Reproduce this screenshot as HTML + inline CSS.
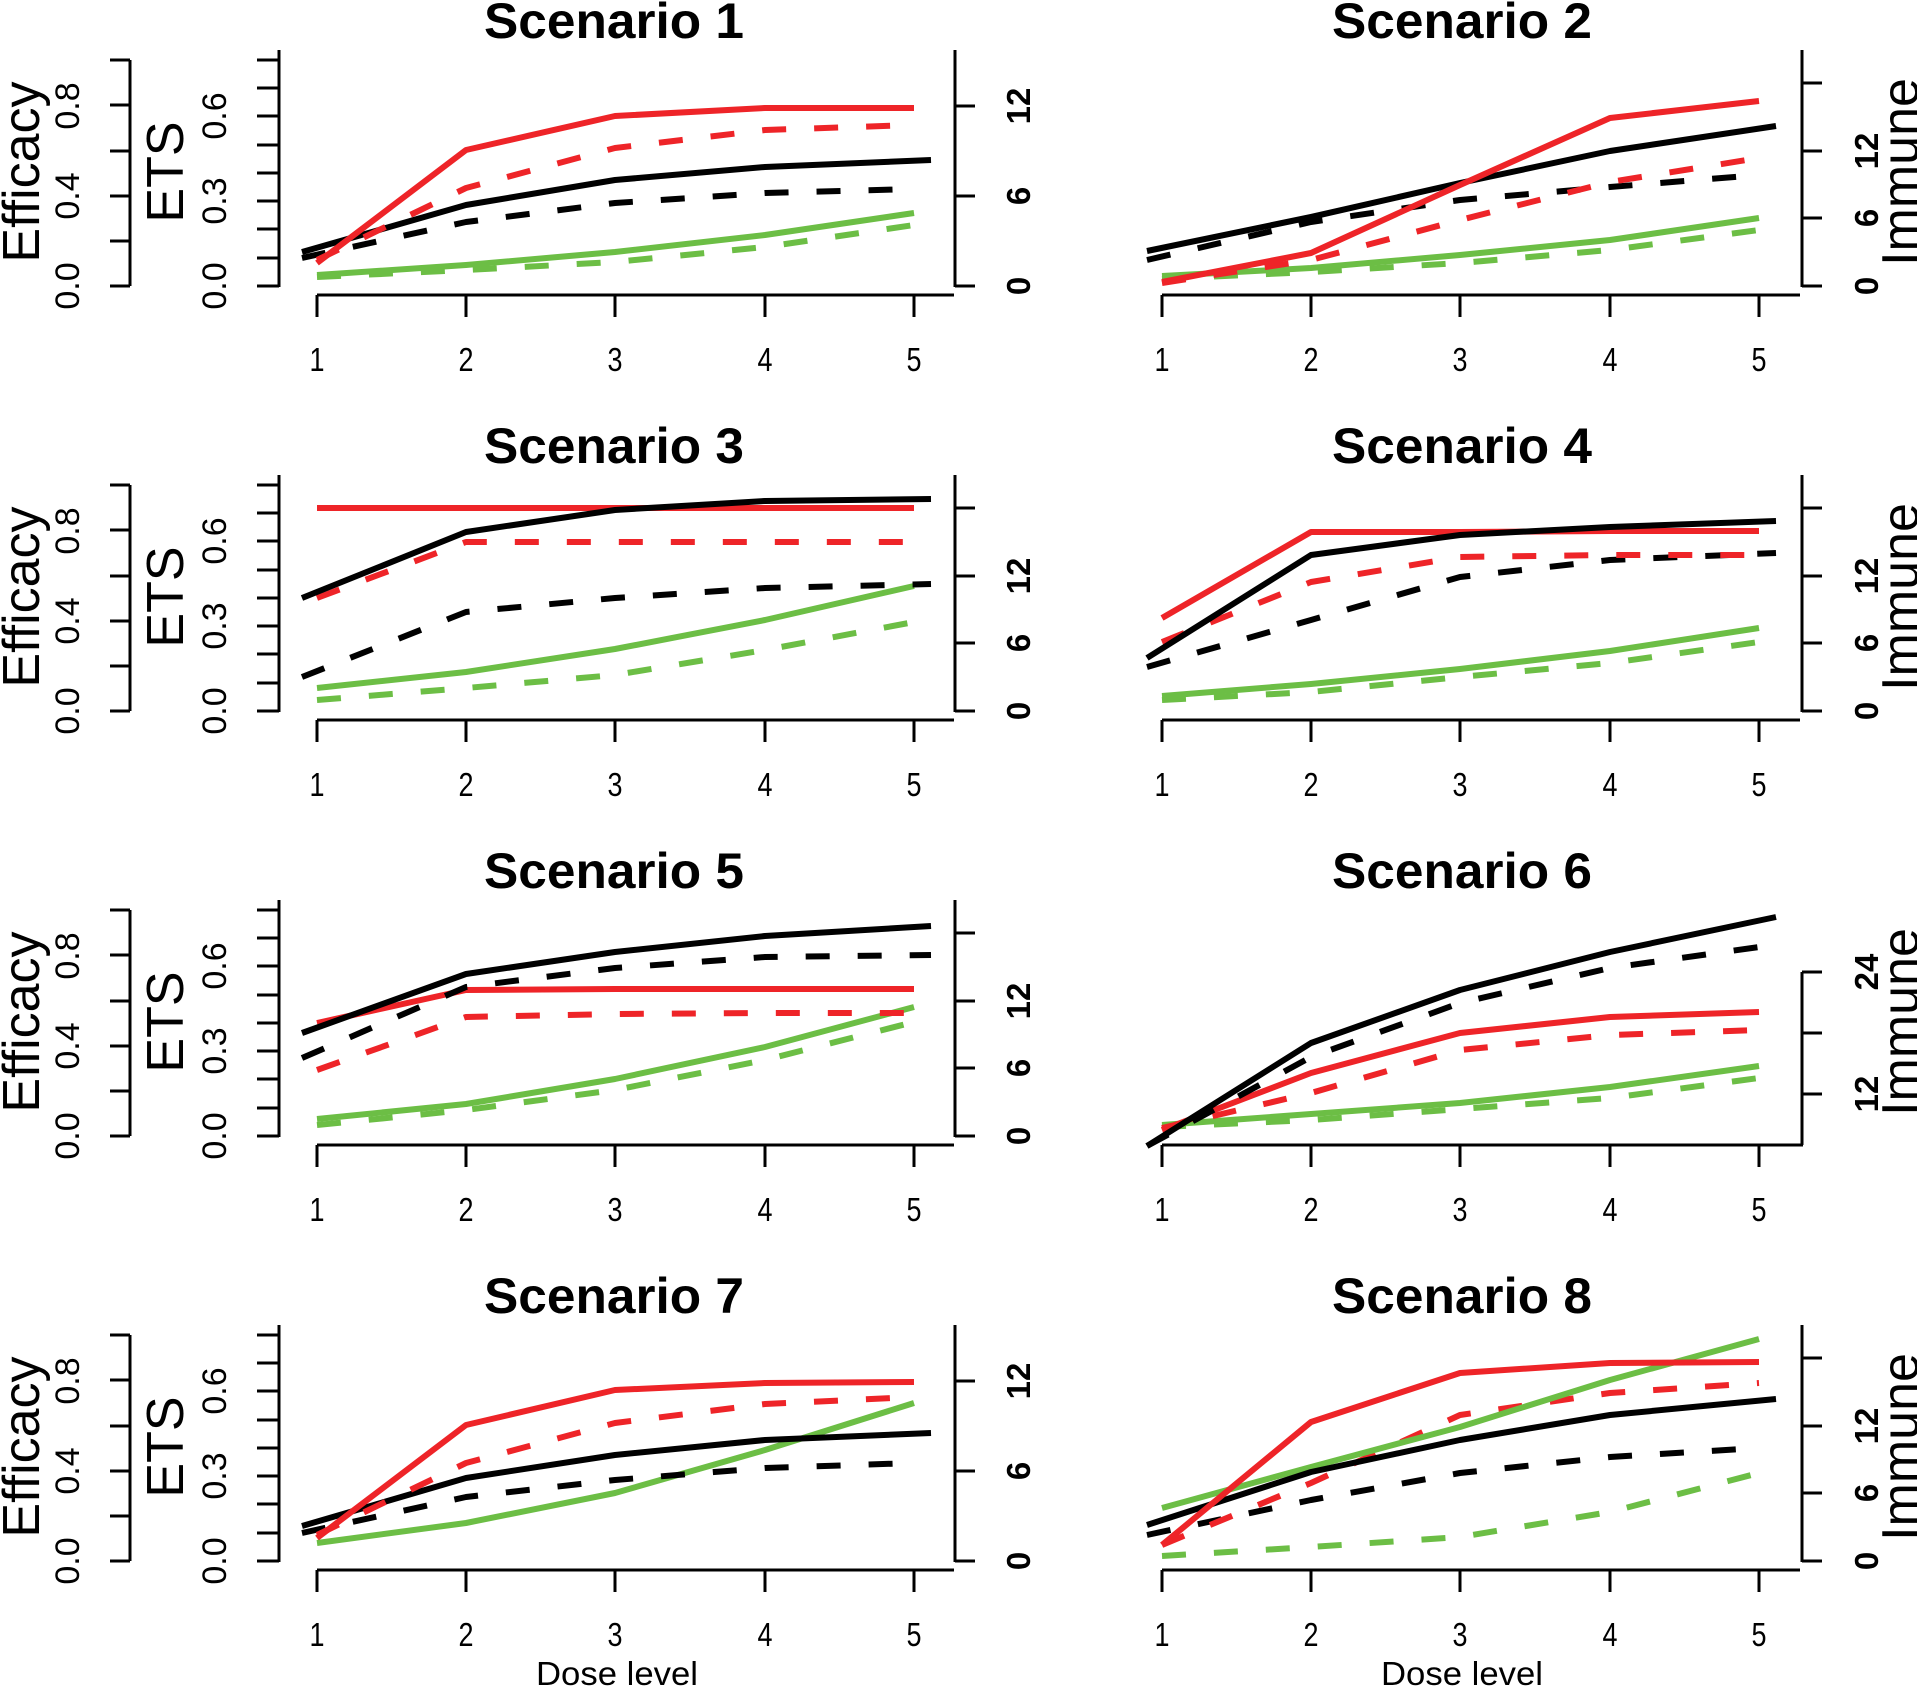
<!DOCTYPE html>
<html><head><meta charset="utf-8"><style>
html,body{margin:0;padding:0;background:#fff;}
svg{display:block;}
text{font-family:"Liberation Sans",sans-serif;fill:#000;}
.t{font-size:50px;font-weight:bold;}
.xl{font-size:33px;}
.al{font-size:52px;}
.tl{font-size:34px;}
.tb{font-size:33px;font-weight:bold;}
.ax{stroke:#000;stroke-width:3;fill:none;}
.r,.rd,.k,.kd,.g,.gd{fill:none;stroke-width:6;stroke-linejoin:round;}
.r,.rd{stroke:#EE2428;}
.k,.kd{stroke:#000;}
.g,.gd{stroke:#6CBE45;}
.rd,.kd,.gd{stroke-dasharray:24 28;}
</style></head><body>
<svg width="1917" height="1687" viewBox="0 0 1917 1687" xmlns="http://www.w3.org/2000/svg">

<!-- ===== Row 1 ===== -->
<g transform="translate(0,0)">
<text class="t" x="614" y="38" text-anchor="middle" textLength="260" lengthAdjust="spacingAndGlyphs">Scenario 1</text>
<path class="ax" d="M130,60V286 M110,60H130 M110,105H130 M110,151H130 M110,196H130 M110,241H130 M110,286H130"/>
<text class="tl" transform="translate(79,286) rotate(-90)" text-anchor="middle">0.0</text>
<text class="tl" transform="translate(79,196) rotate(-90)" text-anchor="middle">0.4</text>
<text class="tl" transform="translate(79,106) rotate(-90)" text-anchor="middle">0.8</text>
<text class="al" transform="translate(39,172) rotate(-90)" text-anchor="middle">Efficacy</text>
<path class="ax" d="M279,50V287 M257,60H279 M257,88H279 M257,116H279 M257,145H279 M257,173H279 M257,201H279 M257,229H279 M257,258H279 M257,286H279"/>
<text class="tl" transform="translate(226,286) rotate(-90)" text-anchor="middle">0.0</text>
<text class="tl" transform="translate(226,201) rotate(-90)" text-anchor="middle">0.3</text>
<text class="tl" transform="translate(226,116) rotate(-90)" text-anchor="middle">0.6</text>
<text class="al" transform="translate(183,172) rotate(-90)" text-anchor="middle">ETS</text>
<path class="ax" d="M955,50V287 M955,106H975 M955,196H975 M955,286H975"/>
<text class="tb" transform="translate(1030,286) rotate(-90)" text-anchor="middle">0</text>
<text class="tb" transform="translate(1030,196) rotate(-90)" text-anchor="middle">6</text>
<text class="tb" transform="translate(1030,106) rotate(-90)" text-anchor="middle">12</text>
<path class="ax" d="M317,295H954 M317,295V317 M466,295V317 M615,295V317 M765,295V317 M914,295V317"/>
<text class="xl" x="317" y="371" text-anchor="middle" textLength="15" lengthAdjust="spacingAndGlyphs">1</text>
<text class="xl" x="466" y="371" text-anchor="middle" textLength="15" lengthAdjust="spacingAndGlyphs">2</text>
<text class="xl" x="615" y="371" text-anchor="middle" textLength="15" lengthAdjust="spacingAndGlyphs">3</text>
<text class="xl" x="765" y="371" text-anchor="middle" textLength="15" lengthAdjust="spacingAndGlyphs">4</text>
<text class="xl" x="914" y="371" text-anchor="middle" textLength="15" lengthAdjust="spacingAndGlyphs">5</text>
<polyline class="gd" points="317,277 466,270 615,262 765,247 914,225"/>
<polyline class="g" points="317,275 466,265 615,252 765,235 914,213"/>
<polyline class="kd" points="302,258 466,222 615,203 765,193 914,189"/>
<polyline class="k" points="302,252 466,205 615,180 765,167 931,160"/>
<polyline class="rd" points="317,260 466,188 615,148 765,130 914,125"/>
<polyline class="r" points="317,263 466,150 615,116 765,108 914,108"/>
</g>

<g transform="translate(845,0)">
<text class="t" x="617" y="38" text-anchor="middle" textLength="260" lengthAdjust="spacingAndGlyphs">Scenario 2</text>
<path class="ax" d="M957,50V287 M957,83H977 M957,151H977 M957,218H977 M957,286H977"/>
<text class="tb" transform="translate(1033,286) rotate(-90)" text-anchor="middle">0</text>
<text class="tb" transform="translate(1033,218) rotate(-90)" text-anchor="middle">6</text>
<text class="tb" transform="translate(1033,151) rotate(-90)" text-anchor="middle">12</text>
<text class="al" transform="translate(1073,172) rotate(-90)" text-anchor="middle">Immune</text>
<path class="ax" d="M317,295H955 M317,295V317 M466,295V317 M615,295V317 M765,295V317 M914,295V317"/>
<text class="xl" x="317" y="371" text-anchor="middle" textLength="15" lengthAdjust="spacingAndGlyphs">1</text>
<text class="xl" x="466" y="371" text-anchor="middle" textLength="15" lengthAdjust="spacingAndGlyphs">2</text>
<text class="xl" x="615" y="371" text-anchor="middle" textLength="15" lengthAdjust="spacingAndGlyphs">3</text>
<text class="xl" x="765" y="371" text-anchor="middle" textLength="15" lengthAdjust="spacingAndGlyphs">4</text>
<text class="xl" x="914" y="371" text-anchor="middle" textLength="15" lengthAdjust="spacingAndGlyphs">5</text>
<polyline class="gd" points="317,279 466,272 615,263 765,250 914,230"/>
<polyline class="g" points="317,276 466,268 615,255 765,240 914,218"/>
<polyline class="kd" points="302,260 466,222 615,200 765,187 914,175"/>
<polyline class="k" points="302,251 466,217 615,183 765,151 931,126"/>
<polyline class="rd" points="317,283 466,260 615,220 765,182 914,158"/>
<polyline class="r" points="317,282 466,253 615,185 765,118 914,101"/>
</g>

<!-- ===== Row 2 ===== -->
<g transform="translate(0,425)">
<text class="t" x="614" y="38" text-anchor="middle" textLength="260" lengthAdjust="spacingAndGlyphs">Scenario 3</text>
<path class="ax" d="M130,60V286 M110,60H130 M110,105H130 M110,151H130 M110,196H130 M110,241H130 M110,286H130"/>
<text class="tl" transform="translate(79,286) rotate(-90)" text-anchor="middle">0.0</text>
<text class="tl" transform="translate(79,196) rotate(-90)" text-anchor="middle">0.4</text>
<text class="tl" transform="translate(79,106) rotate(-90)" text-anchor="middle">0.8</text>
<text class="al" transform="translate(39,172) rotate(-90)" text-anchor="middle">Efficacy</text>
<path class="ax" d="M279,50V287 M257,60H279 M257,88H279 M257,116H279 M257,145H279 M257,173H279 M257,201H279 M257,229H279 M257,258H279 M257,286H279"/>
<text class="tl" transform="translate(226,286) rotate(-90)" text-anchor="middle">0.0</text>
<text class="tl" transform="translate(226,201) rotate(-90)" text-anchor="middle">0.3</text>
<text class="tl" transform="translate(226,116) rotate(-90)" text-anchor="middle">0.6</text>
<text class="al" transform="translate(183,172) rotate(-90)" text-anchor="middle">ETS</text>
<path class="ax" d="M955,50V287 M955,83H975 M955,151H975 M955,218H975 M955,286H975"/>
<text class="tb" transform="translate(1030,286) rotate(-90)" text-anchor="middle">0</text>
<text class="tb" transform="translate(1030,218) rotate(-90)" text-anchor="middle">6</text>
<text class="tb" transform="translate(1030,151) rotate(-90)" text-anchor="middle">12</text>
<path class="ax" d="M317,295H954 M317,295V317 M466,295V317 M615,295V317 M765,295V317 M914,295V317"/>
<text class="xl" x="317" y="371" text-anchor="middle" textLength="15" lengthAdjust="spacingAndGlyphs">1</text>
<text class="xl" x="466" y="371" text-anchor="middle" textLength="15" lengthAdjust="spacingAndGlyphs">2</text>
<text class="xl" x="615" y="371" text-anchor="middle" textLength="15" lengthAdjust="spacingAndGlyphs">3</text>
<text class="xl" x="765" y="371" text-anchor="middle" textLength="15" lengthAdjust="spacingAndGlyphs">4</text>
<text class="xl" x="914" y="371" text-anchor="middle" textLength="15" lengthAdjust="spacingAndGlyphs">5</text>
<polyline class="gd" points="317,275 466,263 615,250 765,225 914,197"/>
<polyline class="g" points="317,263 466,247 615,224 765,195 914,161"/>
<polyline class="kd" points="302,252 466,187 615,173 765,163 931,159"/>
<polyline class="rd" points="317,173 466,117 615,117 765,117 914,117"/>
<polyline class="r" points="317,83 466,83 615,83 765,83 914,83"/>
<polyline class="k" points="302,173 466,107 615,85 765,76 931,74"/>
</g>

<g transform="translate(845,425)">
<text class="t" x="617" y="38" text-anchor="middle" textLength="260" lengthAdjust="spacingAndGlyphs">Scenario 4</text>
<path class="ax" d="M957,50V287 M957,83H977 M957,151H977 M957,218H977 M957,286H977"/>
<text class="tb" transform="translate(1033,286) rotate(-90)" text-anchor="middle">0</text>
<text class="tb" transform="translate(1033,218) rotate(-90)" text-anchor="middle">6</text>
<text class="tb" transform="translate(1033,151) rotate(-90)" text-anchor="middle">12</text>
<text class="al" transform="translate(1073,172) rotate(-90)" text-anchor="middle">Immune</text>
<path class="ax" d="M317,295H955 M317,295V317 M466,295V317 M615,295V317 M765,295V317 M914,295V317"/>
<text class="xl" x="317" y="371" text-anchor="middle" textLength="15" lengthAdjust="spacingAndGlyphs">1</text>
<text class="xl" x="466" y="371" text-anchor="middle" textLength="15" lengthAdjust="spacingAndGlyphs">2</text>
<text class="xl" x="615" y="371" text-anchor="middle" textLength="15" lengthAdjust="spacingAndGlyphs">3</text>
<text class="xl" x="765" y="371" text-anchor="middle" textLength="15" lengthAdjust="spacingAndGlyphs">4</text>
<text class="xl" x="914" y="371" text-anchor="middle" textLength="15" lengthAdjust="spacingAndGlyphs">5</text>
<polyline class="gd" points="317,275 466,267 615,252 765,238 914,217"/>
<polyline class="g" points="317,271 466,259 615,244 765,226 914,203"/>
<polyline class="kd" points="302,242 466,195 615,152 765,135 931,128"/>
<polyline class="rd" points="317,217 466,157 615,132 765,130 914,130"/>
<polyline class="r" points="317,193 466,107 615,107 765,106 914,106"/>
<polyline class="k" points="302,233 466,130 615,110 765,102 931,96"/>
</g>

<!-- ===== Row 3 ===== -->
<g transform="translate(0,850)">
<text class="t" x="614" y="38" text-anchor="middle" textLength="260" lengthAdjust="spacingAndGlyphs">Scenario 5</text>
<path class="ax" d="M130,60V286 M110,60H130 M110,105H130 M110,151H130 M110,196H130 M110,241H130 M110,286H130"/>
<text class="tl" transform="translate(79,286) rotate(-90)" text-anchor="middle">0.0</text>
<text class="tl" transform="translate(79,196) rotate(-90)" text-anchor="middle">0.4</text>
<text class="tl" transform="translate(79,106) rotate(-90)" text-anchor="middle">0.8</text>
<text class="al" transform="translate(39,172) rotate(-90)" text-anchor="middle">Efficacy</text>
<path class="ax" d="M279,50V287 M257,60H279 M257,88H279 M257,116H279 M257,145H279 M257,173H279 M257,201H279 M257,229H279 M257,258H279 M257,286H279"/>
<text class="tl" transform="translate(226,286) rotate(-90)" text-anchor="middle">0.0</text>
<text class="tl" transform="translate(226,201) rotate(-90)" text-anchor="middle">0.3</text>
<text class="tl" transform="translate(226,116) rotate(-90)" text-anchor="middle">0.6</text>
<text class="al" transform="translate(183,172) rotate(-90)" text-anchor="middle">ETS</text>
<path class="ax" d="M955,50V287 M955,83H975 M955,151H975 M955,218H975 M955,286H975"/>
<text class="tb" transform="translate(1030,286) rotate(-90)" text-anchor="middle">0</text>
<text class="tb" transform="translate(1030,218) rotate(-90)" text-anchor="middle">6</text>
<text class="tb" transform="translate(1030,151) rotate(-90)" text-anchor="middle">12</text>
<path class="ax" d="M317,295H954 M317,295V317 M466,295V317 M615,295V317 M765,295V317 M914,295V317"/>
<text class="xl" x="317" y="371" text-anchor="middle" textLength="15" lengthAdjust="spacingAndGlyphs">1</text>
<text class="xl" x="466" y="371" text-anchor="middle" textLength="15" lengthAdjust="spacingAndGlyphs">2</text>
<text class="xl" x="615" y="371" text-anchor="middle" textLength="15" lengthAdjust="spacingAndGlyphs">3</text>
<text class="xl" x="765" y="371" text-anchor="middle" textLength="15" lengthAdjust="spacingAndGlyphs">4</text>
<text class="xl" x="914" y="371" text-anchor="middle" textLength="15" lengthAdjust="spacingAndGlyphs">5</text>
<polyline class="gd" points="317,275 466,260 615,240 765,210 914,172"/>
<polyline class="g" points="317,269 466,254 615,229 765,197 914,157"/>
<polyline class="rd" points="317,220 466,167 615,164 765,163 914,163"/>
<polyline class="r" points="317,173 466,140 615,139 765,139 914,139"/>
<polyline class="kd" points="302,208 466,137 615,118 765,107 931,105"/>
<polyline class="k" points="302,183 466,124 615,102 765,86 931,76"/>
</g>

<g transform="translate(845,850)">
<text class="t" x="617" y="38" text-anchor="middle" textLength="260" lengthAdjust="spacingAndGlyphs">Scenario 6</text>
<path class="ax" d="M957,122V295 M957,122H977 M957,183H977 M957,244H977"/>
<text class="tb" transform="translate(1033,244) rotate(-90)" text-anchor="middle">12</text>
<text class="tb" transform="translate(1033,122) rotate(-90)" text-anchor="middle">24</text>
<text class="al" transform="translate(1073,172) rotate(-90)" text-anchor="middle">Immune</text>
<path class="ax" d="M317,295H958 M317,295V317 M466,295V317 M615,295V317 M765,295V317 M914,295V317"/>
<text class="xl" x="317" y="371" text-anchor="middle" textLength="15" lengthAdjust="spacingAndGlyphs">1</text>
<text class="xl" x="466" y="371" text-anchor="middle" textLength="15" lengthAdjust="spacingAndGlyphs">2</text>
<text class="xl" x="615" y="371" text-anchor="middle" textLength="15" lengthAdjust="spacingAndGlyphs">3</text>
<text class="xl" x="765" y="371" text-anchor="middle" textLength="15" lengthAdjust="spacingAndGlyphs">4</text>
<text class="xl" x="914" y="371" text-anchor="middle" textLength="15" lengthAdjust="spacingAndGlyphs">5</text>
<polyline class="gd" points="317,277 466,270 615,259 765,248 914,228"/>
<polyline class="g" points="317,275 466,264 615,253 765,237 914,216"/>
<polyline class="rd" points="317,278 466,243 615,200 765,185 914,180"/>
<polyline class="r" points="317,280 466,223 615,183 765,167 914,162"/>
<polyline class="kd" points="302,296 466,207 615,153 765,118 914,97"/>
<polyline class="k" points="302,296 466,193 615,140 765,102 931,67"/>
</g>

<!-- ===== Row 4 ===== -->
<g transform="translate(0,1275)">
<text class="t" x="614" y="38" text-anchor="middle" textLength="260" lengthAdjust="spacingAndGlyphs">Scenario 7</text>
<path class="ax" d="M130,60V286 M110,60H130 M110,105H130 M110,151H130 M110,196H130 M110,241H130 M110,286H130"/>
<text class="tl" transform="translate(79,286) rotate(-90)" text-anchor="middle">0.0</text>
<text class="tl" transform="translate(79,196) rotate(-90)" text-anchor="middle">0.4</text>
<text class="tl" transform="translate(79,106) rotate(-90)" text-anchor="middle">0.8</text>
<text class="al" transform="translate(39,172) rotate(-90)" text-anchor="middle">Efficacy</text>
<path class="ax" d="M279,50V287 M257,60H279 M257,88H279 M257,116H279 M257,145H279 M257,173H279 M257,201H279 M257,229H279 M257,258H279 M257,286H279"/>
<text class="tl" transform="translate(226,286) rotate(-90)" text-anchor="middle">0.0</text>
<text class="tl" transform="translate(226,201) rotate(-90)" text-anchor="middle">0.3</text>
<text class="tl" transform="translate(226,116) rotate(-90)" text-anchor="middle">0.6</text>
<text class="al" transform="translate(183,172) rotate(-90)" text-anchor="middle">ETS</text>
<path class="ax" d="M955,50V287 M955,106H975 M955,196H975 M955,286H975"/>
<text class="tb" transform="translate(1030,286) rotate(-90)" text-anchor="middle">0</text>
<text class="tb" transform="translate(1030,196) rotate(-90)" text-anchor="middle">6</text>
<text class="tb" transform="translate(1030,106) rotate(-90)" text-anchor="middle">12</text>
<path class="ax" d="M317,295H954 M317,295V317 M466,295V317 M615,295V317 M765,295V317 M914,295V317"/>
<text class="xl" x="317" y="371" text-anchor="middle" textLength="15" lengthAdjust="spacingAndGlyphs">1</text>
<text class="xl" x="466" y="371" text-anchor="middle" textLength="15" lengthAdjust="spacingAndGlyphs">2</text>
<text class="xl" x="615" y="371" text-anchor="middle" textLength="15" lengthAdjust="spacingAndGlyphs">3</text>
<text class="xl" x="765" y="371" text-anchor="middle" textLength="15" lengthAdjust="spacingAndGlyphs">4</text>
<text class="xl" x="914" y="371" text-anchor="middle" textLength="15" lengthAdjust="spacingAndGlyphs">5</text>
<text class="xl" x="617" y="410" text-anchor="middle" textLength="162" lengthAdjust="spacingAndGlyphs">Dose level</text>
<polyline class="g" points="317,268 466,248 615,218 765,175 914,128"/>
<polyline class="kd" points="302,258 466,222 615,205 765,193 914,188"/>
<polyline class="k" points="302,251 466,203 615,180 765,165 931,158"/>
<polyline class="rd" points="317,260 466,188 615,148 765,129 914,122"/>
<polyline class="r" points="317,263 466,150 615,115 765,108 914,107"/>
</g>

<g transform="translate(845,1275)">
<text class="t" x="617" y="38" text-anchor="middle" textLength="260" lengthAdjust="spacingAndGlyphs">Scenario 8</text>
<path class="ax" d="M957,50V287 M957,83H977 M957,151H977 M957,218H977 M957,286H977"/>
<text class="tb" transform="translate(1033,286) rotate(-90)" text-anchor="middle">0</text>
<text class="tb" transform="translate(1033,218) rotate(-90)" text-anchor="middle">6</text>
<text class="tb" transform="translate(1033,151) rotate(-90)" text-anchor="middle">12</text>
<text class="al" transform="translate(1073,172) rotate(-90)" text-anchor="middle">Immune</text>
<path class="ax" d="M317,295H955 M317,295V317 M466,295V317 M615,295V317 M765,295V317 M914,295V317"/>
<text class="xl" x="317" y="371" text-anchor="middle" textLength="15" lengthAdjust="spacingAndGlyphs">1</text>
<text class="xl" x="466" y="371" text-anchor="middle" textLength="15" lengthAdjust="spacingAndGlyphs">2</text>
<text class="xl" x="615" y="371" text-anchor="middle" textLength="15" lengthAdjust="spacingAndGlyphs">3</text>
<text class="xl" x="765" y="371" text-anchor="middle" textLength="15" lengthAdjust="spacingAndGlyphs">4</text>
<text class="xl" x="914" y="371" text-anchor="middle" textLength="15" lengthAdjust="spacingAndGlyphs">5</text>
<text class="xl" x="617" y="410" text-anchor="middle" textLength="162" lengthAdjust="spacingAndGlyphs">Dose level</text>
<polyline class="gd" points="317,281 466,272 615,262 765,237 914,198"/>
<polyline class="kd" points="302,260 466,225 615,198 765,182 914,173"/>
<polyline class="rd" points="317,270 466,208 615,140 765,118 914,108"/>
<polyline class="g" points="317,233 466,192 615,152 765,105 914,64"/>
<polyline class="k" points="302,250 466,197 615,165 765,140 931,124"/>
<polyline class="r" points="317,270 466,147 615,98 765,88 914,87"/>
</g>
</svg>
</body></html>
